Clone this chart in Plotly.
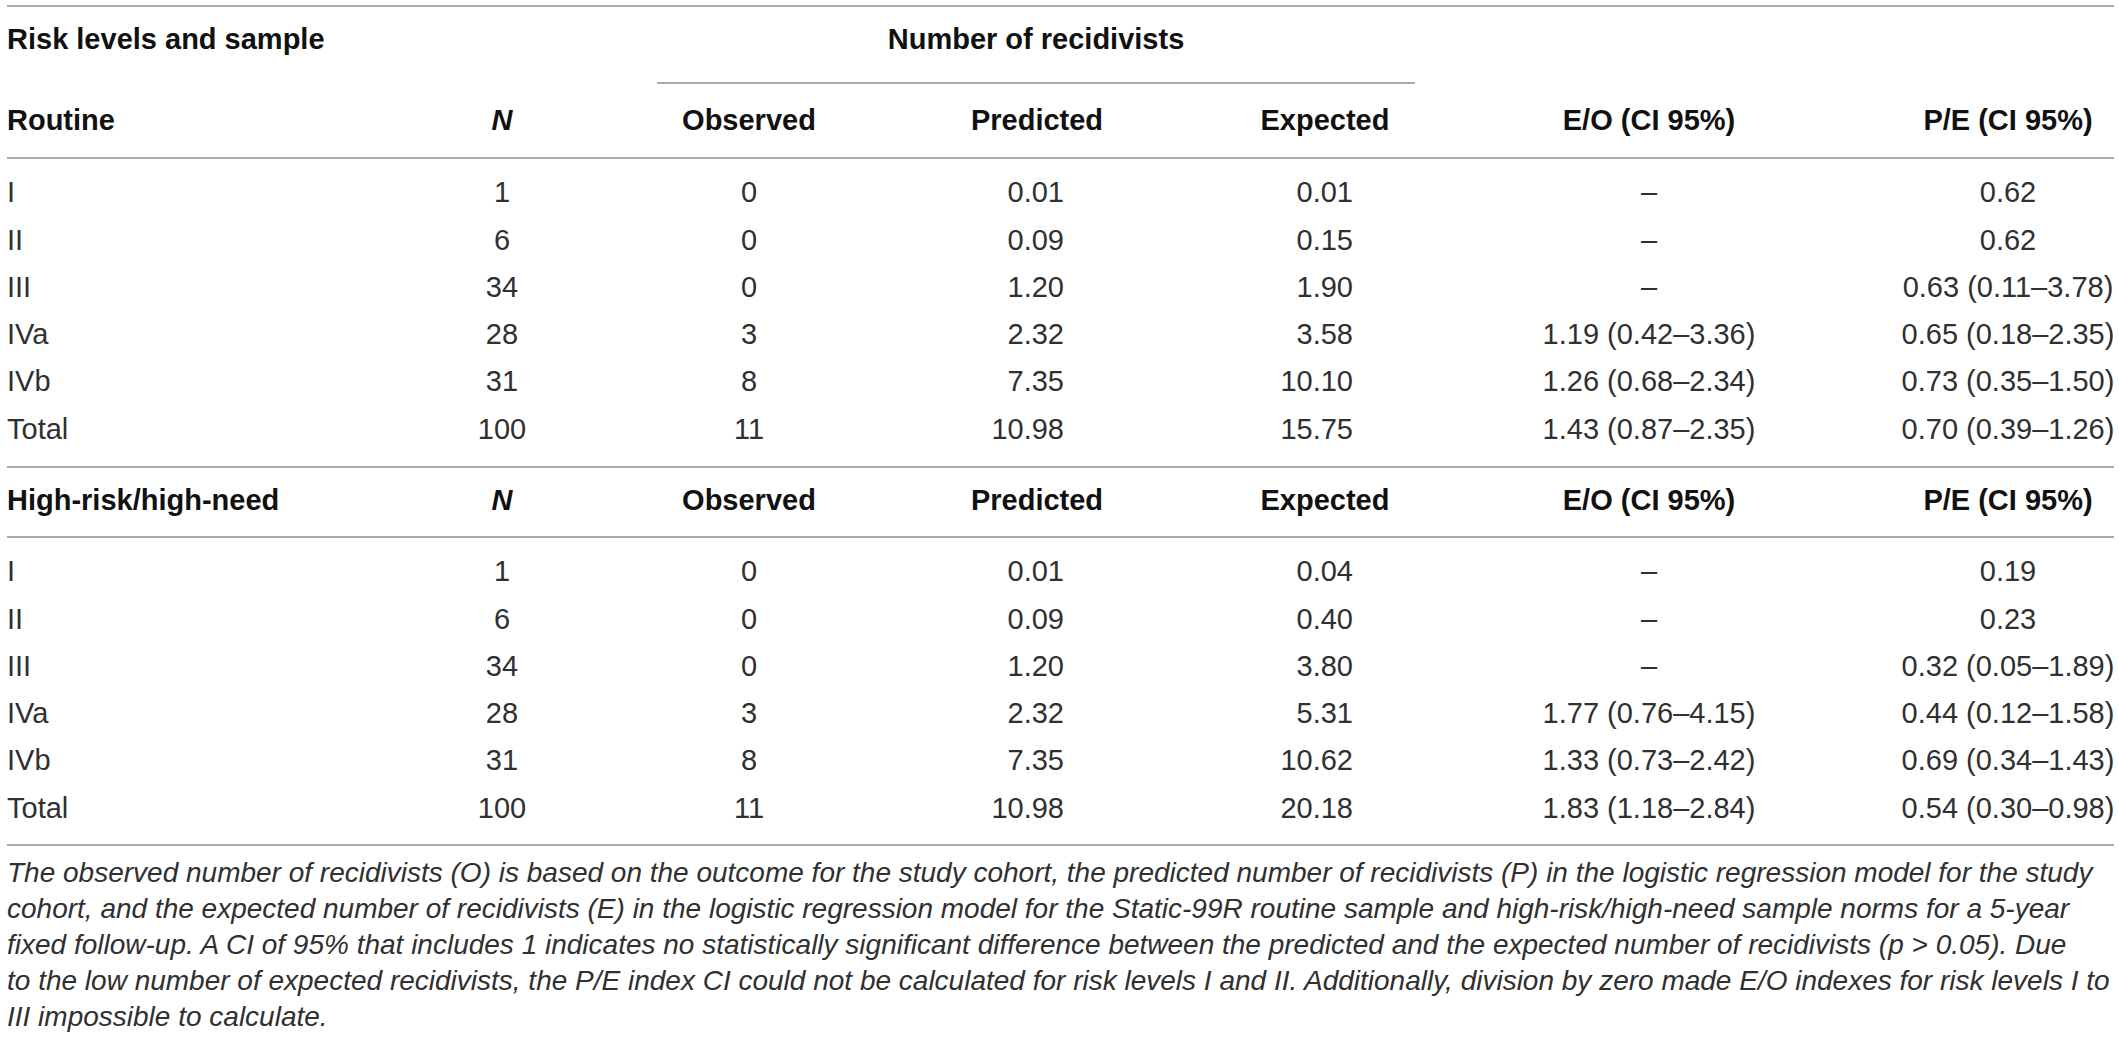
import plotly.graph_objects as go

# ---------------- data ----------------
levels = ["I", "II", "III", "IVa", "IVb", "Total"]
n_vals = [1, 6, 34, 28, 31, 100]
observed = [0, 0, 0, 3, 8, 11]
predicted = [0.01, 0.09, 1.20, 2.32, 7.35, 10.98]

routine_expected = [0.01, 0.15, 1.90, 3.58, 10.10, 15.75]
routine_eo = ["–", "–", "–", "1.19 (0.42–3.36)", "1.26 (0.68–2.34)", "1.43 (0.87–2.35)"]
routine_pe = ["0.62", "0.62", "0.63 (0.11–3.78)", "0.65 (0.18–2.35)", "0.73 (0.35–1.50)", "0.70 (0.39–1.26)"]

hr_expected = [0.04, 0.40, 3.80, 5.31, 10.62, 20.18]
hr_eo = ["–", "–", "–", "1.77 (0.76–4.15)", "1.33 (0.73–2.42)", "1.83 (1.18–2.84)"]
hr_pe = ["0.19", "0.23", "0.32 (0.05–1.89)", "0.44 (0.12–1.58)", "0.69 (0.34–1.43)", "0.54 (0.30–0.98)"]

sections = ["Routine", "High-risk/high-need"]
col_headers = ["<i>N</i>", "Observed", "Predicted", "Expected", "E/O (CI 95%)", "P/E (CI 95%)"]
top_header = "Risk levels and sample"
span_header = "Number of recidivists"

footnote_lines = [
    "The observed number of recidivists (O) is based on the outcome for the study cohort, the predicted number of recidivists (P) in the logistic regression model for the study",
    "cohort, and the expected number of recidivists (E) in the logistic regression model for the Static-99R routine sample and high-risk/high-need sample norms for a 5-year",
    "fixed follow-up. A CI of 95% that includes 1 indicates no statistically significant difference between the predicted and the expected number of recidivists (<i>p</i> &gt; 0.05). Due",
    "to the low number of expected recidivists, the P/E index CI could not be calculated for risk levels I and II. Additionally, division by zero made E/O indexes for risk levels I to",
    "III impossible to calculate.",
]

# ---------------- layout constants ----------------
W, H = 2119, 1043
FONT = "Liberation Sans, Arial, Helvetica, sans-serif"
FS = 29
FOOT_FS = 28
HEAD_COLOR = "#111111"
BODY_COLOR = "#303030"
LINE_COLOR = "#8c8c8c"

X_LEFT = 7
X_RIGHT = 2114
X_N = 502
X_OBS = 749
X_PRED_C = 1037
X_PRED_R = 1064
X_EXP_C = 1325
X_EXP_R = 1353
X_EO = 1649
X_PE = 2008

Y_TOP_LINE = 6
Y_HEAD1 = 42
Y_SPAN_LINE = 83
SPAN_X0, SPAN_X1 = 657, 1415
section_header_y = [123, 503]
section_line_y = [158, 537]
section_first_row_y = [195, 574]
ROW_PITCH = 47.3
Y_SEP_LINE = 467
Y_BOTTOM_LINE = 845
Y_FOOT0 = 875
FOOT_PITCH = 36

fig = go.Figure()


def add_text(xs, ys, texts, pos, color, size=FS, family=FONT):
    fig.add_trace(go.Scatter(
        x=xs, y=ys, text=texts, mode="text", textposition=pos,
        textfont=dict(family=family, size=size, color=color),
        hoverinfo="skip", showlegend=False, cliponaxis=False,
    ))


# top headers
add_text([X_LEFT], [Y_HEAD1], [f"<b>{top_header}</b>"], "middle right", HEAD_COLOR)
add_text([(SPAN_X0 + SPAN_X1) / 2], [Y_HEAD1], [f"<b>{span_header}</b>"], "middle center", HEAD_COLOR)

col_x = [X_N, X_OBS, X_PRED_C, X_EXP_C, X_EO, X_PE]
expected_sets = [routine_expected, hr_expected]
eo_sets = [routine_eo, hr_eo]
pe_sets = [routine_pe, hr_pe]

for s, name in enumerate(sections):
    yh = section_header_y[s]
    add_text([X_LEFT], [yh], [f"<b>{name}</b>"], "middle right", HEAD_COLOR)
    add_text(col_x, [yh] * len(col_x), [f"<b>{h}</b>" for h in col_headers], "middle center", HEAD_COLOR)

    ys = [section_first_row_y[s] + i * ROW_PITCH for i in range(len(levels))]
    add_text([X_LEFT] * len(levels), ys, levels, "middle right", BODY_COLOR)
    add_text([X_N] * len(levels), ys, [str(v) for v in n_vals], "middle center", BODY_COLOR)
    add_text([X_OBS] * len(levels), ys, [str(v) for v in observed], "middle center", BODY_COLOR)
    add_text([X_PRED_R] * len(levels), ys, [f"{v:.2f}" for v in predicted], "middle left", BODY_COLOR)
    add_text([X_EXP_R] * len(levels), ys, [f"{v:.2f}" for v in expected_sets[s]], "middle left", BODY_COLOR)
    add_text([X_EO] * len(levels), ys, eo_sets[s], "middle center", BODY_COLOR)
    add_text([X_PE] * len(levels), ys, pe_sets[s], "middle center", BODY_COLOR)

# footnote
fys = [Y_FOOT0 + i * FOOT_PITCH for i in range(len(footnote_lines))]
add_text([X_LEFT] * len(footnote_lines), fys, [f"<i>{t}</i>" for t in footnote_lines],
         "middle right", BODY_COLOR, size=FOOT_FS)

# rules
lines = [
    (X_LEFT, X_RIGHT, Y_TOP_LINE),
    (SPAN_X0, SPAN_X1, Y_SPAN_LINE),
    (X_LEFT, X_RIGHT, section_line_y[0]),
    (X_LEFT, X_RIGHT, Y_SEP_LINE),
    (X_LEFT, X_RIGHT, section_line_y[1]),
    (X_LEFT, X_RIGHT, Y_BOTTOM_LINE),
]
for x0, x1, y in lines:
    fig.add_shape(type="line", x0=x0, x1=x1, y0=y, y1=y, xref="x", yref="y",
                  line=dict(color=LINE_COLOR, width=1.6))

fig.update_layout(
    width=W, height=H,
    margin=dict(l=0, r=0, t=0, b=0),
    paper_bgcolor="white", plot_bgcolor="white",
    xaxis=dict(range=[0, W], visible=False, fixedrange=True),
    yaxis=dict(range=[H, 0], visible=False, fixedrange=True),
    showlegend=False,
)

fig.write_html(
    "out.html",
    config={"displayModeBar": False},
    post_script="document.body.style.margin='0';document.body.style.overflow='hidden';",
)
